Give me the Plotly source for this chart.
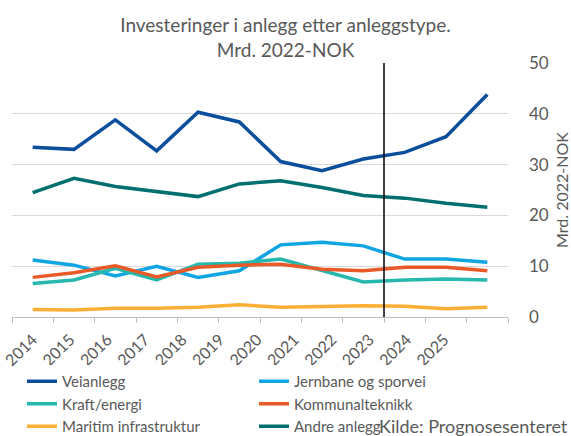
import plotly.graph_objects as go

# %%
aar = [2014, 2015, 2016, 2017, 2018, 2019, 2020, 2021, 2022, 2023, 2024, 2025]
aar_tekst = ["2014", "2015", "2016", "2017", "2018", "2019", "2020", "2021", "2022", "2023", "2024", "2025"]

veianlegg = [33.4, 33.0, 38.8, 32.7, 40.3, 38.4, 30.6, 28.8, 31.1, 32.4, 35.5, 43.8]
jernbane = [11.2, 10.2, 8.1, 10.0, 7.8, 9.1, 14.2, 14.7, 14.0, 11.4, 11.4, 10.8]
kraft = [6.6, 7.3, 9.6, 7.3, 10.4, 10.6, 11.4, 9.2, 6.9, 7.3, 7.5, 7.3]
kommunal = [7.8, 8.7, 10.1, 7.9, 9.8, 10.2, 10.4, 9.4, 9.1, 9.8, 9.8, 9.1]
maritim = [1.5, 1.4, 1.7, 1.7, 1.9, 2.4, 1.9, 2.0, 2.2, 2.1, 1.6, 1.9]
andre = [24.5, 27.3, 25.7, 24.7, 23.7, 26.2, 26.8, 25.5, 23.9, 23.4, 22.4, 21.6]

serier = [
    ("Veianlegg", veianlegg, "#0B4F9C"),
    ("Jernbane og sporvei", jernbane, "#0EA5E2"),
    ("Kraft/energi", kraft, "#26B8AE"),
    ("Kommunalteknikk", kommunal, "#E95A28"),
    ("Maritim infrastruktur", maritim, "#FBB034"),
    ("Andre anlegg", andre, "#006F70"),
]

# %%
fig = go.Figure()
for navn, verdier, farge in serier:
    fig.add_trace(go.Scatter(
        x=aar, y=verdier, name=navn, mode="lines",
        line=dict(color=farge, width=3.5),
    ))

# skillelinje mellom historikk og prognose
fig.add_shape(type="line", xref="x", yref="y", x0=2022.5, x1=2022.5, y0=0, y1=50,
              line=dict(color="black", width=1.5))

fig.add_annotation(text="Kilde: Prognosesenteret", xref="paper", yref="paper",
                   x=1.125, y=-0.429, xanchor="right", yanchor="middle",
                   showarrow=False, font=dict(size=18, color="#595959"))

# etikettene i originalen står litt tettere enn kategoriene
etikett_pos = [aar[0] + i * 0.905 for i in range(len(aar))]

fig.update_xaxes(
    range=[2013.5, 2025.5], tickmode="array", tickvals=etikett_pos, ticktext=aar_tekst,
    tickangle=-45, ticks="", ticklabelstandoff=6,
    minor=dict(tick0=2013.5, dtick=1, ticks="outside", ticklen=5, tickcolor="#BFBFBF", showgrid=False),
    showline=True, linecolor="#BFBFBF", zeroline=False,
    showgrid=False, automargin=False, tickfont=dict(size=16, color="#595959"),
)
fig.update_yaxes(
    side="right", range=[0, 50], dtick=10, showgrid=True, gridcolor="#D9D9D9",
    zeroline=False, automargin=False, ticklabelstandoff=20,
    tickfont=dict(size=17, color="#595959"),
    title=dict(text="Mrd. 2022-NOK", font=dict(size=16, color="#595959"), standoff=8),
)

fig.update_layout(
    width=571, height=436,
    margin=dict(l=12, r=63, t=63, b=119),
    paper_bgcolor="white", plot_bgcolor="white",
    font=dict(family="Lato, Liberation Sans, sans-serif", color="#595959"),
    title=dict(text="Investeringer i anlegg etter anleggstype.<br>Mrd. 2022-NOK",
               x=0.5, xanchor="center", xref="container",
               y=1 - 32 / 436, yanchor="middle", yref="container",
               font=dict(size=19, color="#595959")),
    showlegend=True,
    legend=dict(orientation="h", xref="container", yref="container",
                x=22 / 571, y=1 - 365 / 436, xanchor="left", yanchor="top",
                entrywidth=187, entrywidthmode="pixels", tracegroupgap=0,
                font=dict(size=15, color="#595959")),
)

# nettleserens standardmarg på body flytter figuren 8px
fig.write_html("out.html", config={"displayModeBar": False},
               post_script="document.body.style.margin='0px';")
